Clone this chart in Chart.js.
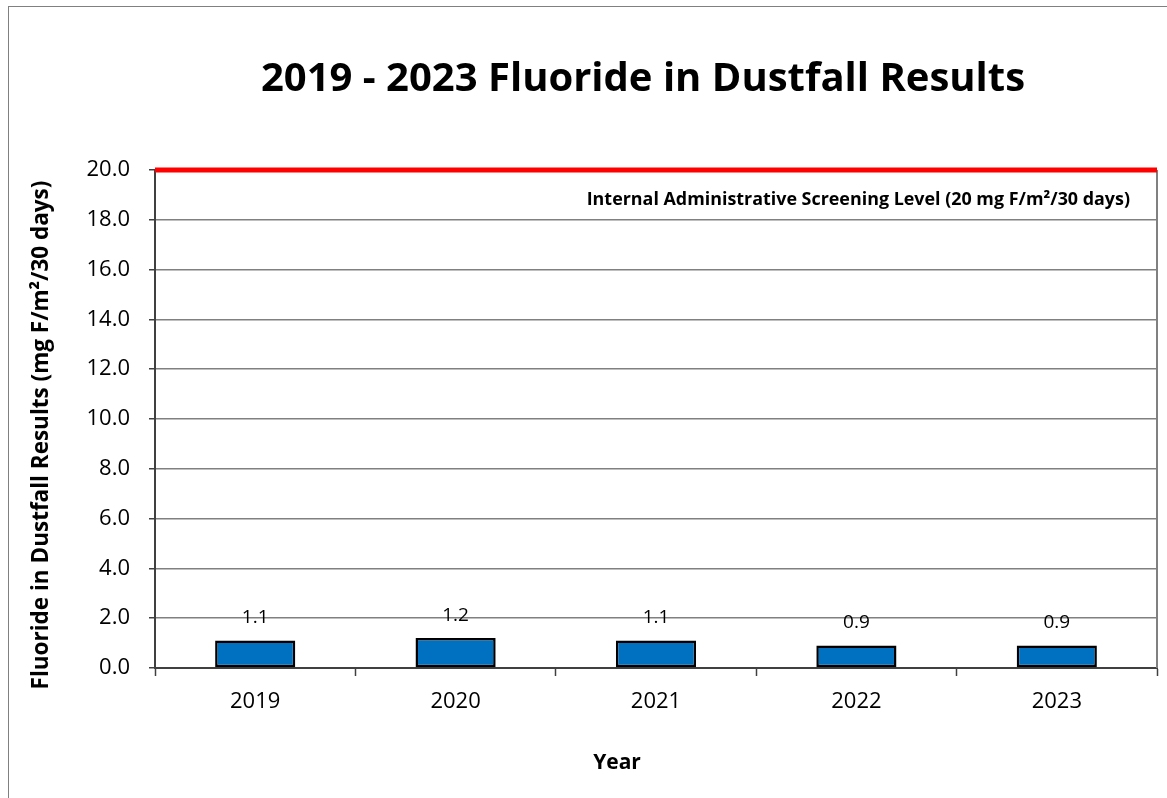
<!DOCTYPE html>
<html>
<head>
<meta charset="utf-8">
<title>Fluoride in Dustfall Results</title>
<script src="https://cdn.jsdelivr.net/npm/chart.js@4"></script>
<style>
  body { margin: 0; background: #fff; }
  #wrap { width: 1167px; height: 798px; }
</style>
</head>
<body>
<div id="wrap"><canvas id="fluorideChart" width="1167" height="798"></canvas></div>
<script>
var years = ['2019', '2020', '2021', '2022', '2023'];
var fluorideValues = [1.1, 1.2, 1.1, 0.9, 0.9];
var screeningLevel = 20;
var screeningLabel = 'Internal Administrative Screening Level (20 mg F/m\u00b2/30 days)';
var chartTitle = '2019 - 2023 Fluoride in Dustfall Results';
var xTitle = 'Year';
var yTitle = 'Fluoride in Dustfall Results (mg F/m\u00b2/30 days)';
var yMin = 0, yMax = 20, yStep = 2;

var FONT = "'Open Sans', 'DejaVu Sans', sans-serif";

// white page, thin frame round the chart, heading and axis titles
var frame = {
  id: 'frame',
  beforeDraw: function (chart) {
    var c = chart.ctx;
    c.save();
    c.fillStyle = '#fff';
    c.fillRect(0, 0, chart.width, chart.height);
    c.strokeStyle = '#808080';
    c.lineWidth = 1;
    c.strokeRect(8.5, 6.5, chart.width + 20, chart.height + 20);
    c.fillStyle = '#000';
    c.textAlign = 'center';
    c.textBaseline = 'middle';
    c.font = 'bold 40px ' + FONT;
    c.fillText(chartTitle, 643, 80);
    c.font = 'bold 21px ' + FONT;
    c.fillText(xTitle, 617, 763);
    c.translate(42, 435);
    c.rotate(-Math.PI / 2);
    c.font = 'bold 22.5px ' + FONT;
    c.fillText(yTitle, 0, 0);
    c.restore();
  }
};

// red screening level line, its caption, right border of the plot
var screening = {
  id: 'screening',
  afterDatasetsDraw: function (chart) {
    var c = chart.ctx, a = chart.chartArea;
    var y = chart.scales.y.getPixelForValue(screeningLevel);
    c.save();
    c.strokeStyle = '#808080';
    c.lineWidth = 2;
    c.beginPath();
    c.moveTo(a.right, a.top);
    c.lineTo(a.right, a.bottom);
    c.stroke();
    c.strokeStyle = '#ff0000';
    c.lineWidth = 5;
    c.beginPath();
    c.moveTo(a.left, y);
    c.lineTo(a.right, y);
    c.stroke();
    c.fillStyle = '#000';
    c.font = 'bold 17.9px ' + FONT;
    c.textAlign = 'right';
    c.textBaseline = 'middle';
    c.fillText(screeningLabel, a.right - 27, y + 30);
    c.restore();
  }
};

// value labels above each bar
var barLabels = {
  id: 'barLabels',
  afterDatasetsDraw: function (chart) {
    var c = chart.ctx;
    var meta = chart.getDatasetMeta(0);
    c.save();
    c.fillStyle = '#000';
    c.font = '19px ' + FONT;
    c.textAlign = 'center';
    c.textBaseline = 'middle';
    meta.data.forEach(function (bar, i) {
      c.fillText(fluorideValues[i].toFixed(1), bar.x, bar.y - 23);
    });
    c.restore();
  }
};

var ctx = document.getElementById('fluorideChart').getContext('2d');
var fluorideChart = new Chart(ctx, {
  type: 'bar',
  data: {
    labels: years,
    datasets: [{
      label: 'Fluoride',
      data: fluorideValues,
      backgroundColor: '#0070c0',
      borderColor: '#000',
      borderWidth: 2.5,
      borderSkipped: false,
      categoryPercentage: 1,
      barPercentage: 0.4
    }]
  },
  options: {
    responsive: false,
    animation: false,
    layout: { padding: { left: 0, right: 10, top: 170, bottom: 0 } },
    plugins: {
      legend: { display: false },
      tooltip: { enabled: false },
      title: { display: false }
    },
    scales: {
      x: {
        grid: {
          offset: true,
          drawOnChartArea: false,
          tickLength: 8,
          tickColor: '#404040',
          tickWidth: 1.5
        },
        border: { color: '#404040', width: 2 },
        ticks: { color: '#000', padding: 13, font: { family: FONT, size: 22 } },
        afterFit: function (s) { s.height = 130; }
      },
      y: {
        min: yMin,
        max: yMax,
        ticks: {
          stepSize: yStep,
          color: '#000',
          padding: 19,
          font: { family: FONT, size: 22 },
          callback: function (v) { return Number(v).toFixed(1); }
        },
        grid: {
          color: '#808080',
          lineWidth: 1.5,
          tickLength: 6,
          tickColor: '#404040'
        },
        border: { color: '#404040', width: 2 },
        afterFit: function (s) { s.width = 155; }
      }
    }
  },
  plugins: [frame, screening, barLabels]
});
</script>
</body>
</html>
